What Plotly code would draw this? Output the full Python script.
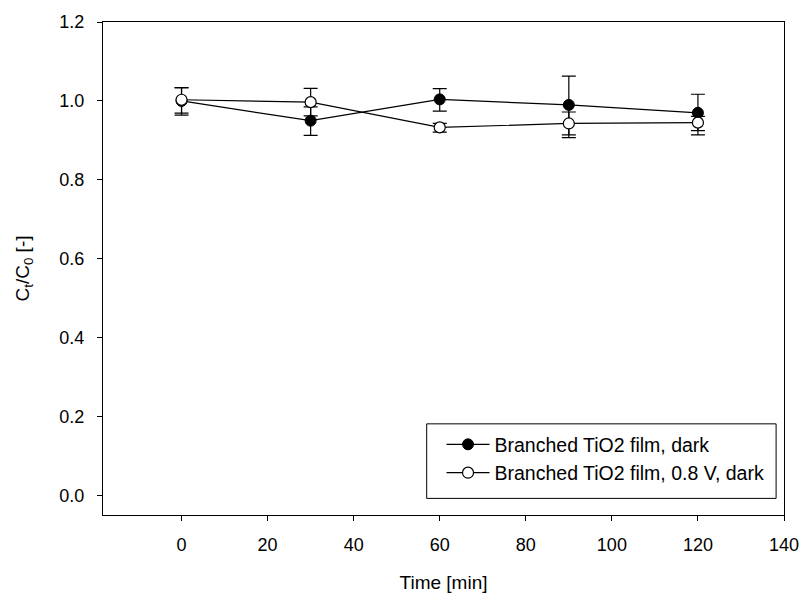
import plotly.graph_objects as go

time_min = [0, 30, 60, 90, 120]

dark_vals = [1.000, 0.950, 1.004, 0.990, 0.970]
dark_err_plus = [0.034, 0.035, 0.027, 0.073, 0.047]
dark_err_minus = [0.036, 0.037, 0.030, 0.083, 0.056]

volt_vals = [1.003, 0.997, 0.933, 0.943, 0.945]
volt_err_plus = [0.030, 0.035, 0.010, 0.029, 0.016]
volt_err_minus = [0.034, 0.035, 0.012, 0.029, 0.020]

series_names = ["Branched TiO2 film, dark", "Branched TiO2 film, 0.8 V, dark"]

x_ticks = [0, 20, 40, 60, 80, 100, 120, 140]
y_ticks = [0.0, 0.2, 0.4, 0.6, 0.8, 1.0, 1.2]

FONT = "Arial, Liberation Sans, sans-serif"

fig = go.Figure()

fig.add_trace(go.Scatter(
    x=time_min, y=dark_vals, name=series_names[0], mode="lines+markers",
    line=dict(color="black", width=1.2),
    marker=dict(symbol="circle", size=11, color="black", line=dict(color="black", width=1)),
    error_y=dict(type="data", symmetric=False, array=dark_err_plus, arrayminus=dark_err_minus,
                 color="black", thickness=1.2, width=7),
))
fig.add_trace(go.Scatter(
    x=time_min, y=volt_vals, name=series_names[1], mode="lines+markers",
    line=dict(color="black", width=1.2),
    marker=dict(symbol="circle", size=11, color="white", line=dict(color="black", width=1.2)),
    error_y=dict(type="data", symmetric=False, array=volt_err_plus, arrayminus=volt_err_minus,
                 color="black", thickness=1.2, width=7),
))

# legend frame (decoration, in paper coordinates)
fig.add_shape(type="rect", xref="paper", yref="paper",
              x0=0.4753, x1=0.9884, y0=0.0337, y1=0.1849,
              line=dict(color="black", width=1), fillcolor="white", layer="above")

fig.update_layout(
    width=811, height=602,
    margin=dict(l=103, r=20, t=21, b=84),
    paper_bgcolor="white", plot_bgcolor="white",
    font=dict(family=FONT, size=18, color="black"),
    showlegend=True,
    legend=dict(x=0.4971, y=0.1143, xanchor="left", yanchor="middle",
                borderwidth=0, bgcolor="rgba(0,0,0,0)",
                font=dict(family=FONT, size=19.5, color="black"),
                itemwidth=43, tracegroupgap=0),
)

fig.update_xaxes(
    range=[-18.25, 140], tickvals=x_ticks, ticktext=[str(v) for v in x_ticks],
    showline=True, linecolor="black", linewidth=1, mirror=True,
    ticks="outside", ticklen=5, tickcolor="black", tickwidth=1,
    showgrid=False, zeroline=False, ticklabelstandoff=8,
    title=dict(text="Time [min]", font=dict(family=FONT, size=19), standoff=22),
    tickfont=dict(family=FONT, size=18),
)
fig.update_yaxes(
    range=[-0.049, 1.2], tickvals=y_ticks, ticktext=["%.1f" % v for v in y_ticks],
    showline=True, linecolor="black", linewidth=1, mirror=True,
    ticks="outside", ticklen=5, tickcolor="black", tickwidth=1,
    showgrid=False, zeroline=False, ticklabelstandoff=9,
    title=dict(text="C<sub>t</sub>/C<sub>0</sub> [-]", font=dict(family=FONT, size=19), standoff=24),
    tickfont=dict(family=FONT, size=18),
)

fig.write_html("out.html")
